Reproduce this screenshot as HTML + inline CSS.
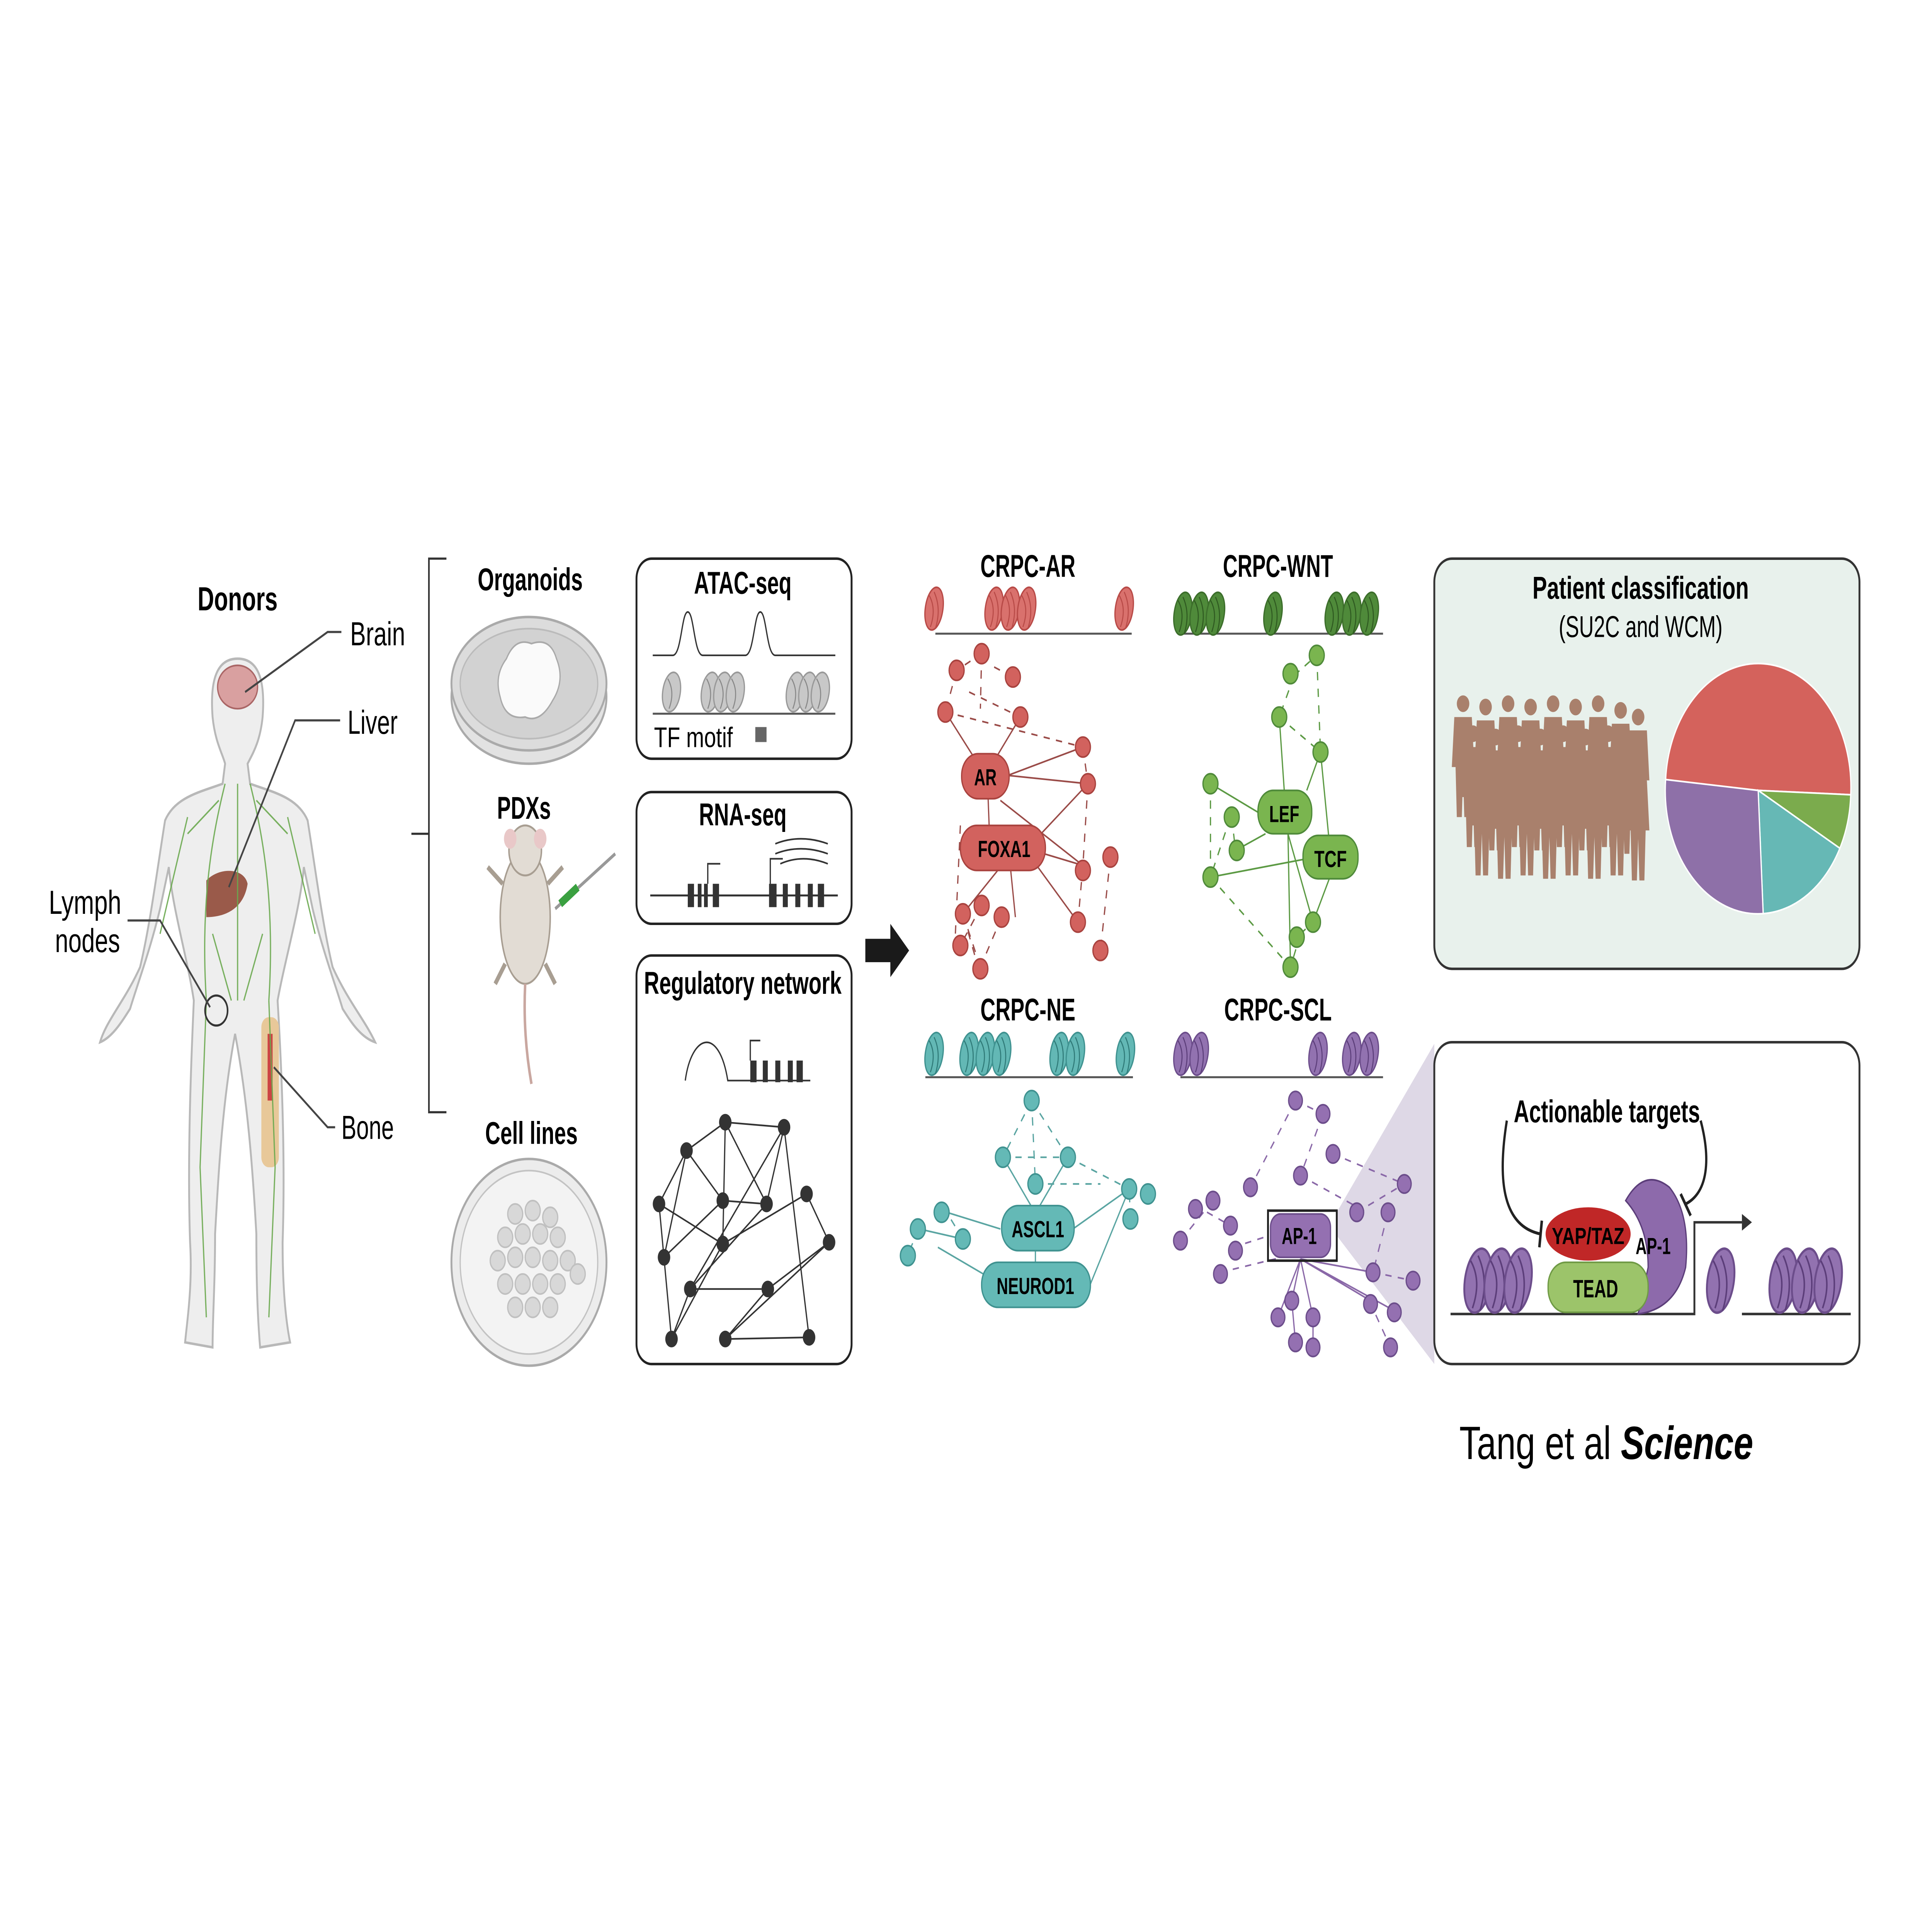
<!DOCTYPE html>
<html><head><meta charset="utf-8"><style>
html,body{margin:0;padding:0;background:#fff;width:100%;height:100%;overflow:hidden}
svg{display:block;position:fixed;left:0;top:0;width:100vw;height:100vh}
.b{font-family:"Liberation Sans Narrow","Liberation Sans",sans-serif;font-weight:bold;text-anchor:middle}
.n{font-family:"Liberation Sans Narrow","Liberation Sans",sans-serif;}
</style></head><body>
<svg viewBox="0 0 1545 1158.6" preserveAspectRatio="none" xmlns="http://www.w3.org/2000/svg">
<defs>
<g id="nucR"><ellipse cx="0" cy="0" rx="7" ry="13" fill="#d9716d" stroke="#b84a47" stroke-width="1" transform="rotate(12)"/><path d="M-4,-8 Q2,0 -3,11 M0,-10 Q6,0 1,12" stroke="#b84a47" fill="none" stroke-width="0.8"/></g>
<g id="nucG"><ellipse cx="0" cy="0" rx="7" ry="13" fill="#4f8a3a" stroke="#3c6e2b" stroke-width="1" transform="rotate(12)"/><path d="M-4,-8 Q2,0 -3,11 M0,-10 Q6,0 1,12" stroke="#2f5a21" fill="none" stroke-width="0.8"/></g>
<g id="nucT"><ellipse cx="0" cy="0" rx="7" ry="13" fill="#63b8b5" stroke="#3f9290" stroke-width="1" transform="rotate(12)"/><path d="M-4,-8 Q2,0 -3,11 M0,-10 Q6,0 1,12" stroke="#2f7a78" fill="none" stroke-width="0.8"/></g>
<g id="nucP"><ellipse cx="0" cy="0" rx="7" ry="13" fill="#9272b0" stroke="#6c4d8b" stroke-width="1" transform="rotate(12)"/><path d="M-4,-8 Q2,0 -3,11 M0,-10 Q6,0 1,12" stroke="#5c3e7a" fill="none" stroke-width="0.8"/></g>
<g id="nucA"><ellipse cx="0" cy="0" rx="7" ry="12" fill="#c8c8c8" stroke="#999" stroke-width="1" transform="rotate(12)"/><path d="M-3,-8 Q3,0 -2,10" stroke="#888" fill="none" stroke-width="0.8"/></g>
<g id="person"><circle cx="0" cy="-58" r="5" fill="#a9806c"/><path d="M-7,-50 L7,-50 L9,-20 L6,-20 L5,10 L1,10 L0,-15 L-1,10 L-5,10 L-6,-20 L-9,-20 Z" fill="#a9806c"/></g>
</defs>

<text x="190" y="366" class="b" font-size="20" textLength="64" lengthAdjust="spacingAndGlyphs">Donors</text>
<g fill="#eeeeee" stroke="#b8b8b8" stroke-width="1.5">
<path d="M190,395 C172,395 168,410 170,430 C172,445 178,452 180,458 L178,470 C160,475 140,478 132,492 C126,520 120,555 112,580 C100,600 85,612 80,625 C90,622 98,612 104,605 C110,590 120,570 128,545 L135,520 C138,545 150,575 155,600 C152,650 150,700 152,745 C154,770 150,790 148,805 L170,808 C170,790 172,770 172,740 C175,700 178,660 188,620 C198,660 202,700 205,740 C205,770 206,790 208,808 L232,805 C228,790 226,770 226,745 C228,700 226,650 222,600 C228,575 240,545 243,520 L250,545 C258,570 268,590 274,605 C280,612 288,622 300,625 C292,612 278,600 266,580 C258,555 252,520 246,492 C238,478 218,475 200,470 L198,458 C202,452 208,445 210,430 C212,410 208,395 190,395 Z"/>
</g>
<ellipse cx="190" cy="412" rx="16" ry="13" fill="#d9a0a0" stroke="#a66" stroke-width="1"/>
<path d="M165,528 C175,520 195,520 198,530 C195,545 180,550 165,550 Z" fill="#9a5a4a"/>
<rect x="209" y="610" width="14" height="90" rx="6" fill="#e8c899"/>
<path d="M216,620 L216,660" stroke="#c44" stroke-width="4"/>
<g stroke="#6aa84f" stroke-width="1" fill="none" opacity="0.9">
<path d="M190,470 L190,600 M180,470 C170,500 160,540 165,600 M200,470 C210,500 220,540 215,600 M150,490 L128,560 M230,490 L252,560 M165,600 L160,700 L165,790 M215,600 L220,700 L215,790 M175,480 L150,500 M205,480 L230,500 M170,560 L185,600 M210,560 L195,600"/>
</g>
<circle cx="173" cy="606" r="9" fill="none" stroke="#333" stroke-width="1.3"/>
<g stroke="#444" stroke-width="1.3" fill="none">
<polyline points="196,415 262,379 273,379"/>
<polyline points="183,532 236,432 272,432"/>
<polyline points="102,552 128,552 168,604"/>
<polyline points="219,640 262,676 268,676"/>
</g>
<text x="280" y="387" class="n" font-size="20" textLength="44" lengthAdjust="spacingAndGlyphs">Brain</text>
<text x="278" y="440" class="n" font-size="20" textLength="40" lengthAdjust="spacingAndGlyphs">Liver</text>
<text x="68" y="548" class="n" font-size="20" text-anchor="middle" textLength="58" lengthAdjust="spacingAndGlyphs">Lymph</text>
<text x="70" y="571" class="n" font-size="20" text-anchor="middle" textLength="52" lengthAdjust="spacingAndGlyphs">nodes</text>
<text x="273" y="683" class="n" font-size="20" textLength="42" lengthAdjust="spacingAndGlyphs">Bone</text>

<g stroke="#333" stroke-width="1.3" fill="none"><polyline points="357,335 343,335 343,667 357,667"/><line x1="329" y1="500" x2="343" y2="500"/></g>

<text x="424" y="354" class="b" font-size="19" textLength="84" lengthAdjust="spacingAndGlyphs">Organoids</text>
<ellipse cx="423" cy="418" rx="62" ry="40" fill="#e2e2e2" stroke="#aaa" stroke-width="1.5"/>
<ellipse cx="423" cy="410" rx="62" ry="40" fill="#dcdcdc" stroke="#aaa" stroke-width="1.5"/>
<ellipse cx="423" cy="410" rx="55" ry="33" fill="#d2d2d2" stroke="#bbb" stroke-width="1"/>
<path d="M405,395 Q412,382 425,386 Q440,382 445,395 Q452,408 442,420 Q432,434 420,430 Q404,432 400,418 Q395,405 405,395 Z" fill="#fafafa" stroke="#aaa"/>

<text x="419" y="491" class="b" font-size="19" textLength="43" lengthAdjust="spacingAndGlyphs">PDXs</text>
<g fill="#e2dcd4" stroke="#a89e92" stroke-width="1.2">
<ellipse cx="420" cy="550" rx="20" ry="40"/>
<ellipse cx="420" cy="510" rx="13" ry="15"/>
</g>
<ellipse cx="408" cy="503" rx="5" ry="6" fill="#e9c8c8"/><ellipse cx="432" cy="503" rx="5" ry="6" fill="#e9c8c8"/>
<path d="M420,590 Q418,620 425,650" stroke="#c9a7a0" stroke-width="2" fill="none"/>
<g stroke="#a89e92" stroke-width="3" fill="none"><path d="M402,530 L390,520 M438,530 L450,520 M404,578 L396,590 M436,578 L444,590"/></g>
<line x1="444" y1="545" x2="492" y2="512" stroke="#999" stroke-width="2"/>
<line x1="448" y1="542" x2="462" y2="532" stroke="#3aa040" stroke-width="5"/>

<text x="425" y="686" class="b" font-size="19" textLength="74" lengthAdjust="spacingAndGlyphs">Cell lines</text>
<circle cx="423" cy="757" r="62" fill="#ececec" stroke="#aaa" stroke-width="1.5"/>
<circle cx="423" cy="757" r="55" fill="#f3f3f3" stroke="#c3c3c3"/>
<g fill="#d8d8d8" stroke="#c0c0c0">
<circle cx="412" cy="728" r="6"/><circle cx="426" cy="726" r="6"/><circle cx="440" cy="730" r="6"/>
<circle cx="404" cy="742" r="6"/><circle cx="418" cy="740" r="6"/><circle cx="432" cy="740" r="6"/><circle cx="446" cy="742" r="6"/>
<circle cx="398" cy="756" r="6"/><circle cx="412" cy="754" r="6"/><circle cx="426" cy="754" r="6"/><circle cx="440" cy="756" r="6"/><circle cx="454" cy="756" r="6"/>
<circle cx="404" cy="770" r="6"/><circle cx="418" cy="770" r="6"/><circle cx="432" cy="770" r="6"/><circle cx="446" cy="770" r="6"/><circle cx="462" cy="764" r="6"/>
<circle cx="412" cy="784" r="6"/><circle cx="426" cy="784" r="6"/><circle cx="440" cy="784" r="6"/>
</g>

<rect x="509" y="335" width="172" height="120" rx="12" fill="#fff" stroke="#222" stroke-width="1.5"/>
<text x="594" y="356" class="b" font-size="19" textLength="78" lengthAdjust="spacingAndGlyphs">ATAC-seq</text>
<path d="M522,393 L538,393 C545,393 545,367 550,367 C555,367 555,393 562,393 L596,393 C603,393 603,367 608,367 C613,367 613,393 620,393 L668,393" stroke="#333" fill="none" stroke-width="1"/>
<line x1="522" y1="428" x2="668" y2="428" stroke="#555" stroke-width="1.2"/>
<use href="#nucA" x="537" y="415"/><use href="#nucA" x="568" y="415"/><use href="#nucA" x="578" y="415"/><use href="#nucA" x="588" y="415"/><use href="#nucA" x="636" y="415"/><use href="#nucA" x="646" y="415"/><use href="#nucA" x="656" y="415"/>
<text x="523" y="448" class="n" font-size="17" textLength="63" lengthAdjust="spacingAndGlyphs">TF motif</text>
<rect x="604" y="436" width="9" height="9" fill="#666"/>

<rect x="509" y="475" width="172" height="79" rx="12" fill="#fff" stroke="#222" stroke-width="1.5"/>
<text x="594" y="495" class="b" font-size="19" textLength="70" lengthAdjust="spacingAndGlyphs">RNA-seq</text>
<line x1="520" y1="537" x2="670" y2="537" stroke="#333" stroke-width="1.2"/>
<g fill="#333"><rect x="550" y="530" width="5" height="14"/><rect x="558" y="530" width="3" height="14"/><rect x="563" y="530" width="3" height="14"/><rect x="570" y="530" width="5" height="14"/>
<rect x="615" y="530" width="6" height="14"/><rect x="626" y="530" width="4" height="14"/><rect x="636" y="530" width="4" height="14"/><rect x="646" y="530" width="4" height="14"/><rect x="654" y="530" width="5" height="14"/></g>
<path d="M566,530 L566,518 L576,518 M616,530 L616,515 L626,515" stroke="#333" fill="none"/>
<path d="M620,506 Q640,500 662,506 M620,512 Q640,506 662,512 M624,518 Q642,512 662,518" stroke="#333" fill="none"/>

<rect x="509" y="573" width="172" height="245" rx="12" fill="#fff" stroke="#222" stroke-width="1.5"/>
<text x="594" y="596" class="b" font-size="19" textLength="158" lengthAdjust="spacingAndGlyphs">Regulatory network</text>
<path d="M548,648 C553,620 575,615 582,648 L648,648" stroke="#333" fill="none"/>
<g fill="#333"><rect x="600" y="636" width="5" height="13"/><rect x="610" y="636" width="4" height="13"/><rect x="620" y="636" width="4" height="13"/><rect x="630" y="636" width="4" height="13"/><rect x="637" y="636" width="5" height="13"/></g>
<path d="M600,636 L600,624 L608,624" stroke="#333" fill="none"/>
<g stroke="#333" stroke-width="1" fill="none">
<path d="M580,673 L627,676 M580,673 L549,690 M580,673 L578,746 M580,673 L613,722 M627,676 L613,722 M627,676 L552,773 M627,676 L647,802 M549,690 L527,722 M549,690 L531,754 M527,722 L537,803 M527,722 L578,746 M531,754 L578,720 M578,720 L613,722 M578,746 L645,716 M645,716 L663,745 M663,745 L580,803 M552,773 L614,773 M614,773 L580,803 M580,803 L647,802 M537,803 L552,773 M537,803 L578,746 M552,773 L613,722 M549,690 L578,720 M614,773 L663,745"/>
</g>
<g fill="#333"><circle cx="580" cy="673" r="5"/><circle cx="627" cy="676" r="5"/><circle cx="549" cy="690" r="5"/><circle cx="527" cy="722" r="5"/><circle cx="578" cy="720" r="5"/><circle cx="613" cy="722" r="5"/><circle cx="645" cy="716" r="5"/><circle cx="531" cy="754" r="5"/><circle cx="578" cy="746" r="5"/><circle cx="663" cy="745" r="5"/><circle cx="552" cy="773" r="5"/><circle cx="614" cy="773" r="5"/><circle cx="537" cy="803" r="5"/><circle cx="580" cy="803" r="5"/><circle cx="647" cy="802" r="5"/></g>

<path d="M692,563 L712,563 L712,554 L727,570 L712,586 L712,577 L692,577 Z" fill="#1a1a1a"/>

<text x="822" y="346" class="b" font-size="19" textLength="76" lengthAdjust="spacingAndGlyphs">CRPC-AR</text>
<line x1="748" y1="380" x2="905" y2="380" stroke="#555" stroke-width="1.2"/>
<use href="#nucR" x="747" y="365"/><use href="#nucR" x="795" y="365"/><use href="#nucR" x="808" y="365"/><use href="#nucR" x="821" y="365"/><use href="#nucR" x="899" y="365"/>
<g stroke="#9a4b48" stroke-width="1" fill="none">
<path d="M788,465 L756,427 M788,465 L816,430 M806,465 L866,448 M806,465 L870,470 M790,475 L791,495 M800,480 L866,519 M820,510 L870,470 M835,512 L866,519 M800,520 L770,548 M808,520 L812,550 M830,520 L862,553"/>
</g>
<g stroke="#9a4b48" stroke-width="1" fill="none" stroke-dasharray="5,5">
<path d="M785,392 L765,402 M785,392 L784,425 M795,400 L810,406 M765,402 L756,427 M775,415 L816,430 M756,427 L866,448 M866,448 L870,470 M870,470 L866,519 M866,519 L862,553 M888,514 L880,570 M768,495 L764,560 M770,548 L784,580 M785,543 L768,567 M801,550 L784,580 M783,582 L770,548"/>
</g>
<g fill="#d2625e" stroke="#a9433f" stroke-width="1">
<circle cx="785" cy="392" r="6"/><circle cx="765" cy="402" r="6"/><circle cx="810" cy="406" r="6"/><circle cx="756" cy="427" r="6"/><circle cx="816" cy="430" r="6"/><circle cx="866" cy="448" r="6"/><circle cx="870" cy="470" r="6"/><circle cx="888" cy="514" r="6"/><circle cx="866" cy="522" r="6"/><circle cx="770" cy="548" r="6"/><circle cx="785" cy="543" r="6"/><circle cx="801" cy="550" r="6"/><circle cx="768" cy="567" r="6"/><circle cx="784" cy="581" r="6"/><circle cx="862" cy="553" r="6"/><circle cx="880" cy="570" r="6"/>
<rect x="769" y="452" width="38" height="27" rx="13"/>
<rect x="768" y="495" width="68" height="27" rx="13"/>
</g>
<text x="788" y="471" class="b" font-size="14" textLength="18" lengthAdjust="spacingAndGlyphs">AR</text>
<text x="803" y="514" class="b" font-size="14" textLength="42" lengthAdjust="spacingAndGlyphs">FOXA1</text>

<text x="1022" y="346" class="b" font-size="19" textLength="88" lengthAdjust="spacingAndGlyphs">CRPC-WNT</text>
<line x1="944" y1="380" x2="1106" y2="380" stroke="#555" stroke-width="1.2"/>
<use href="#nucG" x="946" y="368"/><use href="#nucG" x="959" y="368"/><use href="#nucG" x="972" y="368"/><use href="#nucG" x="1018" y="368"/><use href="#nucG" x="1067" y="368"/><use href="#nucG" x="1081" y="368"/><use href="#nucG" x="1095" y="368"/>
<g stroke="#5c9a44" stroke-width="1" fill="none">
<path d="M1023,430 L1027,474 M1056,451 L1045,474 M1056,451 L1063,505 M968,470 L1008,488 M1012,500 L988,510 M968,526 L1045,515 M1030,500 L1032,580 M1030,500 L1050,553 M1063,527 L1050,553"/>
</g>
<g stroke="#5c9a44" stroke-width="1" fill="none" stroke-dasharray="5,5">
<path d="M1035,405 L1053,393 M1035,405 L1023,430 M1053,393 L1056,451 M1023,430 L1056,451 M984,490 L968,526 M985,490 L988,510 M968,526 L1032,580 M1040,560 L1050,553 M1040,560 L1032,580 M968,470 L968,526"/>
</g>
<g fill="#7ab54f" stroke="#4f8a3a" stroke-width="1">
<circle cx="1053" cy="393" r="6"/><circle cx="1032" cy="404" r="6"/><circle cx="1023" cy="430" r="6"/><circle cx="1056" cy="451" r="6"/><circle cx="968" cy="470" r="6"/><circle cx="985" cy="490" r="6"/><circle cx="989" cy="510" r="6"/><circle cx="968" cy="526" r="6"/><circle cx="1050" cy="553" r="6"/><circle cx="1037" cy="562" r="6"/><circle cx="1032" cy="580" r="6"/>
<rect x="1006" y="474" width="43" height="26" rx="12"/>
<rect x="1042" y="501" width="44" height="26" rx="12"/>
</g>
<text x="1027" y="493" class="b" font-size="14" textLength="24" lengthAdjust="spacingAndGlyphs">LEF</text>
<text x="1064" y="520" class="b" font-size="14" textLength="26" lengthAdjust="spacingAndGlyphs">TCF</text>

<text x="822" y="612" class="b" font-size="19" textLength="76" lengthAdjust="spacingAndGlyphs">CRPC-NE</text>
<line x1="740" y1="646" x2="906" y2="646" stroke="#555" stroke-width="1.2"/>
<use href="#nucT" x="747" y="632"/><use href="#nucT" x="775" y="632"/><use href="#nucT" x="788" y="632"/><use href="#nucT" x="801" y="632"/><use href="#nucT" x="847" y="632"/><use href="#nucT" x="860" y="632"/><use href="#nucT" x="900" y="632"/>
<g stroke="#5aa5a2" stroke-width="1" fill="none">
<path d="M802,694 L826,725 M854,694 L830,725 M828,750 L828,762 M757,727 L800,737 M735,737 L770,743 M800,770 L750,748 M858,737 L903,713 M872,770 L903,713"/>
</g>
<g stroke="#5aa5a2" stroke-width="1" fill="none" stroke-dasharray="5,5">
<path d="M825,660 L802,694 M825,660 L854,694 M825,660 L828,710 M802,694 L854,694 M854,694 L903,713 M735,737 L726,752 M770,743 L757,727 M903,713 L918,716 M904,731 L903,713 M828,710 L880,710"/>
</g>
<g fill="#64b9b6" stroke="#3f9290" stroke-width="1">
<circle cx="825" cy="660" r="6"/><circle cx="802" cy="694" r="6"/><circle cx="854" cy="694" r="6"/><circle cx="828" cy="710" r="6"/><circle cx="753" cy="727" r="6"/><circle cx="734" cy="737" r="6"/><circle cx="770" cy="743" r="6"/><circle cx="726" cy="753" r="6"/><circle cx="903" cy="713" r="6"/><circle cx="918" cy="716" r="6"/><circle cx="904" cy="731" r="6"/>
<rect x="801" y="723" width="58" height="27" rx="13"/>
<rect x="785" y="757" width="87" height="27" rx="13"/>
</g>
<text x="830" y="742" class="b" font-size="14" textLength="42" lengthAdjust="spacingAndGlyphs">ASCL1</text>
<text x="828" y="776" class="b" font-size="14" textLength="62" lengthAdjust="spacingAndGlyphs">NEUROD1</text>

<text x="1022" y="612" class="b" font-size="19" textLength="86" lengthAdjust="spacingAndGlyphs">CRPC-SCL</text>
<line x1="944" y1="646" x2="1106" y2="646" stroke="#555" stroke-width="1.2"/>
<use href="#nucP" x="946" y="632"/><use href="#nucP" x="959" y="632"/><use href="#nucP" x="1054" y="632"/><use href="#nucP" x="1081" y="632"/><use href="#nucP" x="1095" y="632"/>
<polygon points="1069,727 1147,626 1147,818 1069,741" fill="#ded8e6"/>
<g stroke="#8a68a8" stroke-width="1" fill="none" stroke-dasharray="5,5">
<path d="M1036,660 L1058,668 M1036,660 L1000,712 M1058,668 L1040,705 M1066,692 L1123,710 M1040,705 L1093,727 M1085,727 L1123,710 M956,723 L984,735 M944,744 L970,720 M986,748 L1015,741 M976,763 L1036,752 M1098,763 L1130,768 M1110,727 L1098,763 M1095,780 L1112,808"/>
</g>
<g stroke="#8a68a8" stroke-width="1" fill="none">
<path d="M1040,755 L1033,780 M1040,755 L1022,790 M1040,755 L1050,790 M1040,755 L1096,780 M1040,755 L1098,763 M1040,755 L1115,786 M1033,780 L1036,805 M1050,790 L1050,808"/>
</g>
<g fill="#9470b1" stroke="#6c4d8b" stroke-width="1">
<circle cx="1036" cy="660" r="5.5"/><circle cx="1058" cy="668" r="5.5"/><circle cx="1066" cy="692" r="5.5"/><circle cx="1040" cy="705" r="5.5"/><circle cx="1000" cy="712" r="5.5"/><circle cx="1085" cy="727" r="5.5"/><circle cx="1123" cy="710" r="5.5"/><circle cx="1110" cy="727" r="5.5"/><circle cx="970" cy="720" r="5.5"/><circle cx="956" cy="725" r="5.5"/><circle cx="984" cy="735" r="5.5"/><circle cx="944" cy="744" r="5.5"/><circle cx="988" cy="750" r="5.5"/><circle cx="976" cy="764" r="5.5"/><circle cx="1098" cy="763" r="5.5"/><circle cx="1130" cy="768" r="5.5"/><circle cx="1033" cy="780" r="5.5"/><circle cx="1022" cy="790" r="5.5"/><circle cx="1050" cy="790" r="5.5"/><circle cx="1036" cy="805" r="5.5"/><circle cx="1050" cy="808" r="5.5"/><circle cx="1096" cy="782" r="5.5"/><circle cx="1115" cy="787" r="5.5"/><circle cx="1112" cy="808" r="5.5"/>
<rect x="1016" y="728" width="48" height="26" rx="8"/>
</g>
<rect x="1014" y="726" width="55" height="30" fill="none" stroke="#222" stroke-width="1.5"/>
<text x="1039" y="746" class="b" font-size="14" textLength="28" lengthAdjust="spacingAndGlyphs">AP-1</text>

<rect x="1147" y="335" width="340" height="246" rx="14" fill="#e8f1ec" stroke="#333" stroke-width="1.5"/>
<text x="1312" y="359" class="b" font-size="19" textLength="173" lengthAdjust="spacingAndGlyphs">Patient classification</text>
<text x="1312" y="382" class="n" font-size="18" text-anchor="middle" textLength="131" lengthAdjust="spacingAndGlyphs">(SU2C and WCM)</text>
<g>
<use href="#person" x="1170" y="480"/><use href="#person" x="1188" y="482"/><use href="#person" x="1206" y="480"/><use href="#person" x="1224" y="482"/><use href="#person" x="1242" y="480"/><use href="#person" x="1260" y="482"/><use href="#person" x="1278" y="480"/><use href="#person" x="1296" y="484"/><use href="#person" x="1310" y="488"/>
<use href="#person" x="1178" y="498"/><use href="#person" x="1196" y="500"/><use href="#person" x="1214" y="498"/><use href="#person" x="1232" y="500"/><use href="#person" x="1250" y="498"/><use href="#person" x="1268" y="500"/><use href="#person" x="1286" y="498"/><use href="#person" x="1304" y="502"/>
<use href="#person" x="1185" y="515"/><use href="#person" x="1203" y="517"/><use href="#person" x="1221" y="515"/><use href="#person" x="1239" y="517"/><use href="#person" x="1257" y="515"/><use href="#person" x="1275" y="517"/><use href="#person" x="1293" y="515"/><use href="#person" x="1310" y="518"/>
</g>
<g stroke="#fff" stroke-width="1">
<path d="M1406,474 L1332,467.5 A74,74 0 0 1 1480,476.6 Z" fill="#d4625c"/>
<path d="M1406,474 L1480,476.6 A74,74 0 0 1 1471.3,508.7 Z" fill="#7bab4d"/>
<path d="M1406,474 L1471.3,508.7 A74,74 0 0 1 1410,547.9 Z" fill="#66b8b5"/>
<path d="M1406,474 L1410,547.9 A74,74 0 0 1 1332,467.5 Z" fill="#8e70a8"/>
</g>

<rect x="1147" y="625" width="340" height="193" rx="14" fill="#fff" stroke="#333" stroke-width="1.5"/>
<text x="1285" y="673" class="b" font-size="19" textLength="149" lengthAdjust="spacingAndGlyphs">Actionable targets</text>
<path d="M1160,788 L1355,788 L1355,733 L1393,733" stroke="#333" stroke-width="1.5" fill="none"/>
<path d="M1393,728 L1401,733 L1393,738 Z" fill="#333"/>
<line x1="1393" y1="788" x2="1480" y2="788" stroke="#333" stroke-width="1.5"/>
<g transform="translate(1182,768) scale(1.5)"><use href="#nucP"/></g>
<g transform="translate(1198,768) scale(1.5)"><use href="#nucP"/></g>
<g transform="translate(1214,768) scale(1.5)"><use href="#nucP"/></g>
<g transform="translate(1376,768) scale(1.5)"><use href="#nucP"/></g>
<g transform="translate(1426,768) scale(1.5)"><use href="#nucP"/></g>
<g transform="translate(1444,768) scale(1.5)"><use href="#nucP"/></g>
<g transform="translate(1462,768) scale(1.5)"><use href="#nucP"/></g>
<path d="M1300,720 Q1315,700 1335,712 Q1352,728 1348,760 Q1340,785 1310,788 L1318,760 Q1318,735 1300,720 Z" fill="#8d6aab" stroke="#5c3e7a"/>
<ellipse cx="1270" cy="740" rx="34" ry="16" fill="#c02727"/>
<rect x="1238" y="757" width="80" height="30" rx="14" fill="#9cc46a" stroke="#6f9a45"/>
<text x="1270" y="746" class="b" font-size="14" textLength="58" lengthAdjust="spacingAndGlyphs">YAP/TAZ</text>
<text x="1276" y="778" class="b" font-size="15" textLength="36" lengthAdjust="spacingAndGlyphs">TEAD</text>
<text x="1322" y="752" class="b" font-size="14" textLength="28" lengthAdjust="spacingAndGlyphs">AP-1</text>
<path d="M1232,740 C1200,735 1198,705 1205,672" stroke="#222" stroke-width="1.8" fill="none"/>
<line x1="1233" y1="732" x2="1231" y2="748" stroke="#222" stroke-width="2"/>
<path d="M1348,722 C1366,715 1368,695 1360,672" stroke="#222" stroke-width="1.8" fill="none"/>
<line x1="1344" y1="716" x2="1352" y2="729" stroke="#222" stroke-width="2"/>

<text x="1167" y="875" font-family="Liberation Sans, sans-serif" font-size="28" textLength="235" lengthAdjust="spacingAndGlyphs">Tang et al <tspan font-weight="bold" font-style="italic">Science</tspan></text>
</svg>
</body></html>
